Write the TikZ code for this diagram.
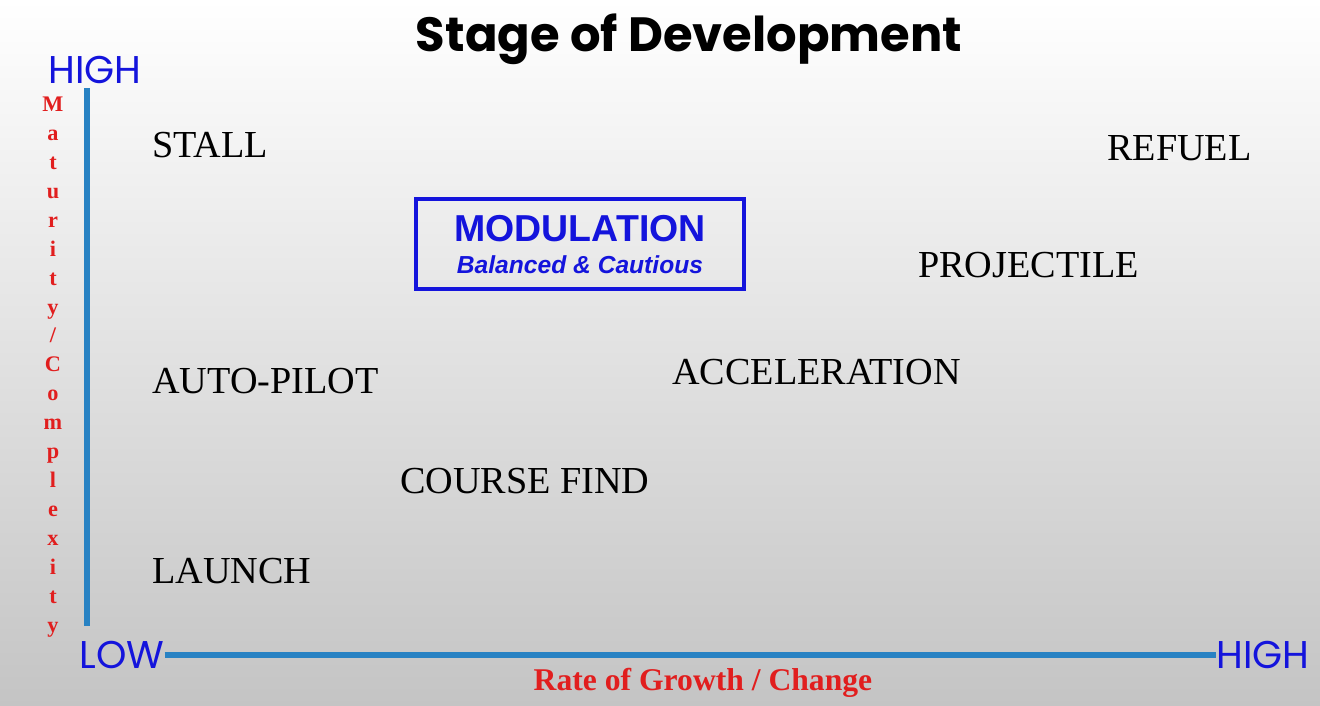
\documentclass[tikz,border=0pt]{standalone}
\usepackage{fontspec}
\setmainfont{Liberation Serif}
\newfontfamily\geofont{Poppins}
\newfontfamily\arialfont{Liberation Sans}
\usetikzlibrary{positioning}

\definecolor{axisblue}{RGB}{40,130,195}
\definecolor{endblue}{RGB}{20,20,220}
\definecolor{axisred}{RGB}{225,30,30}
\definecolor{backgray}{RGB}{196,196,196}

\tikzset{
	stage/.style={anchor=west, inner sep=0pt, font=\fontsize{32.6}{36}\selectfont},
	axisend/.style={text=endblue, inner sep=0pt, font=\geofont\fontsize{33}{36}\selectfont},
	axisline/.style={axisblue, line width=5pt},
	axisname/.style={text=axisred, inner sep=0pt, font=\bfseries\fontsize{27}{30}\selectfont},
	modbox/.style={draw=endblue, line width=3.4pt, minimum width=9.84cm, minimum height=2.7cm, inner sep=0pt},
}

\begin{document}
\begin{tikzpicture}[x=0.03cm, y=-0.03cm]
		% backdrop, white at the top fading to grey
		\shade[top color=white, bottom color=backgray] (0,0) rectangle (1320,706);
		\useasboundingbox (0,0) rectangle (1320,706);

		\node[inner sep=0pt, font=\geofont\bfseries\fontsize{41}{44}\selectfont] (title) at (689,39) {Stage of Development};

		% axes
		\node[axisend] (yhigh) at (95,70) {HIGH};
		\node[axisend] (xlow) at (122,655) {LOW};
		\node[axisend] (xhigh) at (1263,655) {HIGH};
		\coordinate (ytop) at (87,88);
		\coordinate (ybot) at (87,626);
		\draw[axisline] (ytop) -- (ybot);
		\draw[axisline] (xlow.east) -- (xhigh.west);
		\node[axisname] (xname) at (703,683) {Rate of Growth / Change};
		\node[text=axisred, inner sep=0pt, align=center, font=\bfseries\fontsize{19}{24.7}\selectfont] (yname) at (53,367)
			{M\\a\\t\\u\\r\\i\\t\\y\\/\\C\\o\\m\\p\\l\\e\\x\\i\\t\\y};

		% the stages
		\node[stage] (stall) at (152,145) {STALL};
		\node[stage] (refuel) at (1107,148) {REFUEL};
		\node[stage] (projectile) at (918,265) {PROJECTILE};
		\node[stage] (acceleration) at (672,372) {ACCELERATION};
		\node[stage] (autopilot) at (152,381) {AUTO-PILOT};
		\node[stage] (coursefind) at (400,481) {COURSE FIND};
		\node[stage] (launch) at (152,571) {LAUNCH};

		\node[modbox] (modulation) at (580,244) {};
		\node[text=endblue, inner sep=0pt, font=\arialfont\bfseries\fontsize{32}{36}\selectfont] (modtitle) at (580,229) {MODULATION};
		\node[text=endblue, inner sep=0pt, font=\arialfont\bfseries\itshape\fontsize{21}{24}\selectfont] (modsub) at (580,265) {Balanced \& Cautious};
	\end{tikzpicture}
\end{document}
